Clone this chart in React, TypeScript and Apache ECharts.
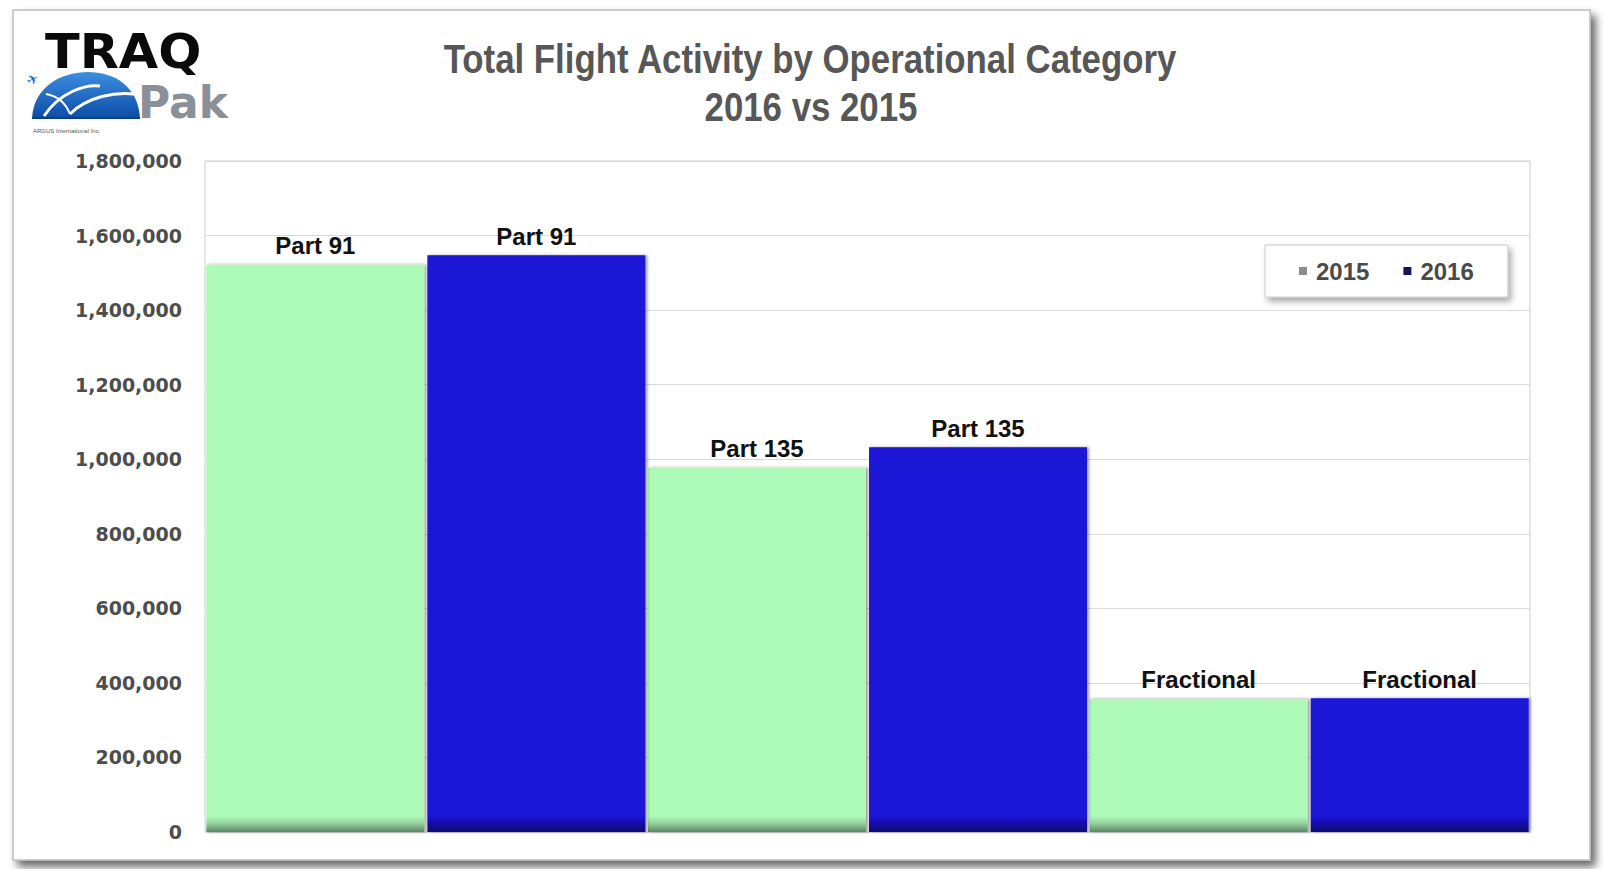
import React, { useEffect, useRef } from "react";
import * as echarts from "echarts";

// Flight counts by operational category
const categories = ["Part 91", "Part 135", "Fractional"];
const flights2015 = [1522000, 977000, 357000];
const flights2016 = [1547000, 1032000, 359000];

const seriesNames = ["2015", "2016"];
const yMin = 0;
const yMax = 1800000;
const yInterval = 200000;

const titleLines = ["Total Flight Activity by Operational Category", "2016 vs 2015"];

const WIDTH = 1604;
const HEIGHT = 869;
const GRID = { left: 205, right: 74, top: 161, bottom: 37 };

// Darkened band along the floor of the plot, shared by all bars
function floorShade(base: string, mid: string, dark: string) {
  const floor = HEIGHT - GRID.bottom;
  return new echarts.graphic.LinearGradient(
    0,
    floor - 16,
    0,
    floor,
    [
      { offset: 0, color: base },
      { offset: 0.45, color: mid },
      { offset: 1, color: dark },
    ],
    true
  );
}

echarts.graphic.registerShape(
  "logoDome",
  echarts.graphic.extendPath("M0 46 C2 14 30 0 56 0 C82 0 106 14 108 46 Z", {}) as any
);

export default function App() {
  const ref = useRef<HTMLDivElement>(null);

  useEffect(() => {
    if (!ref.current) return;
    const chart = echarts.init(ref.current, undefined, { renderer: "svg" });

    const barLabel = {
      show: true,
      position: "top" as const,
      distance: 7,
      formatter: (p: any) => p.name,
      fontFamily: "'Liberation Sans', Arial, sans-serif",
      fontWeight: "bold" as const,
      fontSize: 24,
      color: "#111111",
    };

    const barShadow = {
      shadowColor: "rgba(0,0,0,0.4)",
      shadowBlur: 3,
      shadowOffsetX: 2,
      shadowOffsetY: 0,
    };

    chart.setOption({
      animation: false,
      backgroundColor: "#ffffff",
      grid: {
        left: GRID.left,
        right: GRID.right,
        top: GRID.top,
        bottom: GRID.bottom,
        show: true,
        backgroundColor: "#ffffff",
        borderColor: "#cfcfcf",
        borderWidth: 1,
      },
      legend: {
        left: 1265,
        top: 245,
        orient: "horizontal",
        data: [
          { name: seriesNames[0], itemStyle: { color: "#8a8a8a" } },
          { name: seriesNames[1], itemStyle: { color: "#14145e" } },
        ],
        icon: "rect",
        itemWidth: 8,
        itemHeight: 8,
        itemGap: 34,
        padding: [14, 34, 14, 34],
        backgroundColor: "#ffffff",
        borderColor: "#cccccc",
        borderWidth: 1,
        shadowColor: "rgba(0,0,0,0.35)",
        shadowBlur: 6,
        shadowOffsetX: 3,
        shadowOffsetY: 4,
        textStyle: {
          fontFamily: "'Liberation Sans', Arial, sans-serif",
          fontWeight: "bold",
          fontSize: 24,
          color: "#4a4a4a",
          padding: [0, 0, 0, 4],
        },
      },
      xAxis: {
        type: "category",
        data: categories,
        axisLine: { show: false },
        axisTick: { show: false },
        axisLabel: { show: false },
        splitLine: { show: false },
      },
      yAxis: {
        type: "value",
        min: yMin,
        max: yMax,
        interval: yInterval,
        axisLine: { show: false },
        axisTick: { show: false },
        splitLine: { show: true, lineStyle: { color: "#d9d9d9", width: 1 } },
        axisLabel: {
          margin: 23,
          fontFamily: "'DejaVu Sans', sans-serif",
          fontWeight: "bold",
          fontSize: 19,
          color: "#4d4d4d",
          formatter: (v: number) => v.toLocaleString("en-US"),
        },
      },
      series: [
        {
          name: seriesNames[0],
          type: "bar",
          data: flights2015,
          barCategoryGap: "0.6%",
          barGap: "1.4%",
          itemStyle: {
            color: floorShade("#aefab8", "#94d49e", "#5c8664"),
            ...barShadow,
          },
          label: barLabel,
        },
        {
          name: seriesNames[1],
          type: "bar",
          data: flights2016,
          barCategoryGap: "0.6%",
          barGap: "1.4%",
          itemStyle: {
            color: floorShade("#1b14d6", "#160fae", "#0d0970"),
            ...barShadow,
          },
          label: barLabel,
        },
      ],
      graphic: [
        // outer frame with drop shadow
        {
          type: "rect",
          z: -100,
          shape: { x: 13, y: 10, width: 1577, height: 850 },
          style: {
            fill: "#ffffff",
            stroke: "#bdbdbd",
            lineWidth: 1.5,
            shadowColor: "rgba(0,0,0,0.6)",
            shadowBlur: 9,
            shadowOffsetX: 5,
            shadowOffsetY: 6,
          },
          silent: true,
        },
        // title
        {
          type: "text",
          x: 810,
          y: 59,
          scaleX: 0.87,
          style: {
            text: titleLines[0],
            align: "center",
            verticalAlign: "middle",
            font: "bold 40px 'Liberation Sans', Arial, sans-serif",
            fill: "#575757",
          },
        },
        {
          type: "text",
          x: 811,
          y: 107,
          scaleX: 0.87,
          style: {
            text: titleLines[1],
            align: "center",
            verticalAlign: "middle",
            font: "bold 40px 'Liberation Sans', Arial, sans-serif",
            fill: "#575757",
          },
        },
        // TRAQ Pak logo
        {
          type: "group",
          x: 0,
          y: 0,
          children: [
            {
              type: "logoDome",
              x: 32,
              y: 72,
              style: {
                fill: new echarts.graphic.LinearGradient(0, 0, 0, 1, [
                  { offset: 0, color: "#3c8fe0" },
                  { offset: 1, color: "#0d4ca6" },
                ]),
              },
            },
            {
              type: "line",
              shape: { x1: 32, y1: 118, x2: 140, y2: 118 },
              style: { stroke: "#0b3f8c", lineWidth: 2 },
            },
            {
              type: "bezierCurve",
              shape: { x1: 44, y1: 116, cpx1: 60, cpy1: 92, x2: 100, y2: 86, cpx2: 86, cpy2: 84 },
              style: { stroke: "#ffffff", lineWidth: 3, fill: "none" },
            },
            {
              type: "bezierCurve",
              shape: { x1: 70, y1: 114, cpx1: 88, cpy1: 96, x2: 134, y2: 94, cpx2: 116, cpy2: 92 },
              style: { stroke: "#ffffff", lineWidth: 3, fill: "none" },
            },
            {
              type: "bezierCurve",
              shape: { x1: 70, y1: 114, cpx1: 66, cpy1: 104, x2: 46, y2: 94, cpx2: 58, cpy2: 96 },
              style: { stroke: "#ffffff", lineWidth: 2, fill: "none" },
            },
            {
              type: "text",
              x: 24,
              y: 76,
              rotation: 0.5,
              style: {
                text: "✈",
                font: "14px 'DejaVu Sans', sans-serif",
                fill: "#2a6fc0",
              },
            },
            {
              type: "text",
              x: 45,
              y: 27,
              scaleX: 1.06,
              style: {
                text: "TRAQ",
                font: "bold 48px 'DejaVu Sans', sans-serif",
                fill: "#0a0a0a",
              },
            },
            {
              type: "text",
              x: 138,
              y: 80,
              style: {
                text: "Pak",
                font: "bold 44px 'DejaVu Sans', sans-serif",
                fill: "#8b9098",
              },
            },
            {
              type: "text",
              x: 33,
              y: 128,
              style: {
                text: "ARGUS International Inc.",
                font: "6px 'Liberation Sans', Arial, sans-serif",
                fill: "#555555",
              },
            },
          ],
        },
      ],
    });

    return () => chart.dispose();
  }, []);

  return (
    <div
      ref={ref}
      style={{ position: "fixed", left: 0, top: 0, width: WIDTH, height: HEIGHT }}
    />
  );
}
